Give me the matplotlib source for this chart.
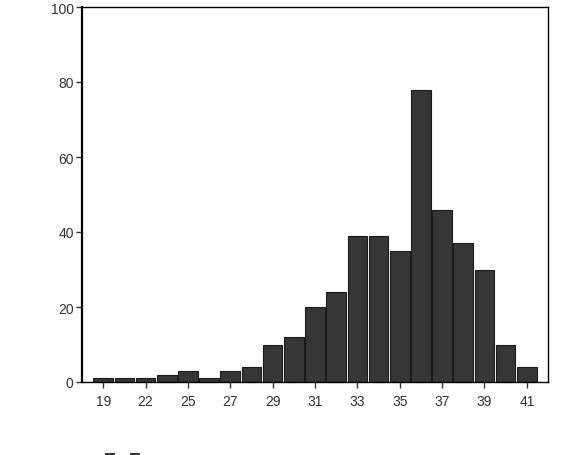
import numpy as np
import matplotlib
matplotlib.use("Agg")
import matplotlib.pyplot as plt
from matplotlib.patches import Rectangle

# ages (categories) and counts
ages = ["19", "21", "22", "24", "25", "26", "27", "28", "29", "30", "31",
        "32", "33", "34", "35", "36", "37", "38", "39", "40", "41"]
counts = [1, 1, 1, 2, 3, 1, 3, 4, 10, 12, 20, 24, 39, 39, 35, 78, 46, 37, 30, 10, 4]
shown_labels = ["19", "22", "25", "27", "29", "31", "33", "35", "37", "39", "41"]
y_ticks = [0, 20, 40, 60, 80, 100]

plt.rcParams["font.family"] = ["Liberation Sans", "DejaVu Sans"]

fig = plt.figure(figsize=(5.69, 4.56), dpi=100)
ax = fig.add_axes([82 / 569, 1 - 383 / 456, (548 - 82) / 569, (383 - 8) / 456])

x = np.arange(len(ages))
ax.bar(x, counts, width=0.93, color="#363636", edgecolor="#1a1a1a", linewidth=0.8)

ax.set_xlim(-1, len(ages))
ax.set_ylim(0, 100)

tick_pos = [i for i, a in enumerate(ages) if a in shown_labels]
ax.set_xticks(tick_pos)
ax.set_xticklabels([ages[i] for i in tick_pos], fontsize=10, color="#333333")
ax.set_yticks(y_ticks)
ax.set_yticklabels([str(v) for v in y_ticks], fontsize=10, color="#333333")
ax.tick_params(axis="x", direction="out", length=4, width=1, pad=5, color="#333333")
ax.tick_params(axis="y", direction="out", length=4, width=1, pad=2, color="#333333")

for side in ["top", "right", "bottom"]:
    ax.spines[side].set_linewidth(1.0)
ax.spines["left"].set_linewidth(1.6)

# legend swatches cut off at the bottom edge of the image
for px in [105, 130]:
    fig.patches.append(Rectangle((px / 569, -0.02), 10 / 569, 0.02 + 2 / 456,
                                 transform=fig.transFigure, facecolor="#363636",
                                 edgecolor="none"))

fig.savefig("out.png", dpi=100)
